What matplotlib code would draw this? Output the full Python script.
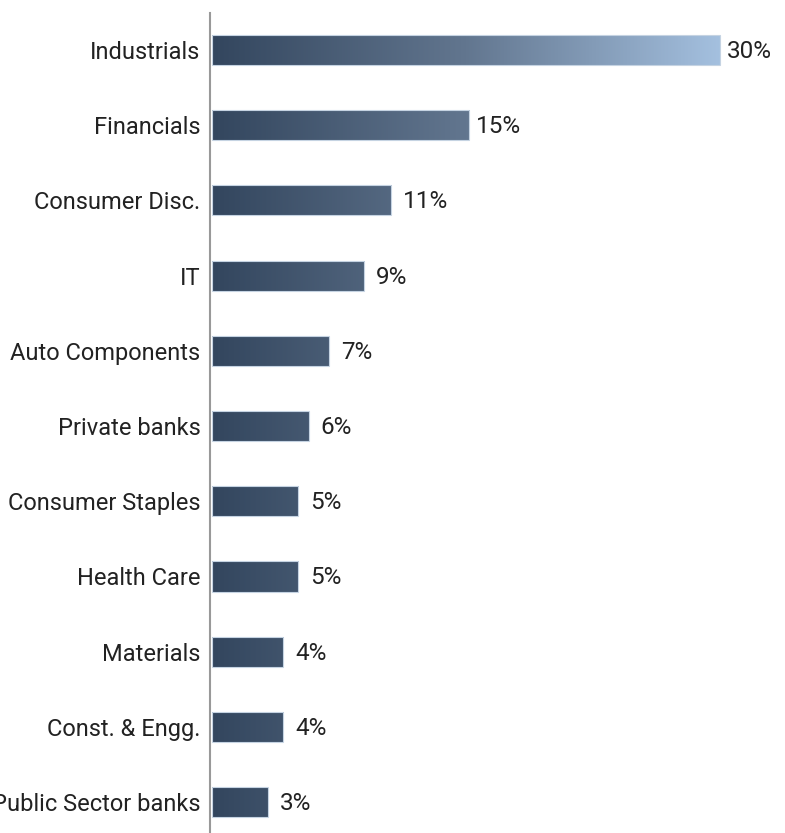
import numpy as np
import matplotlib.pyplot as plt
from matplotlib.colors import LinearSegmentedColormap

plt.rcParams["font.family"] = ["Roboto", "DejaVu Sans"]

sectors = ["Industrials", "Financials", "Consumer Disc.", "IT", "Auto Components",
           "Private banks", "Consumer Staples", "Health Care", "Materials",
           "Const. & Engg.", "Public Sector banks"]
weights = [30.0, 15.2, 10.6, 9.0, 6.9, 5.7, 5.1, 5.1, 4.2, 4.2, 3.3]
labels = ["30%", "15%", "11%", "9%", "7%", "6%", "5%", "5%", "4%", "4%", "3%"]

cmap = LinearSegmentedColormap.from_list("bars", ["#33465e", "#62768f", "#a4c0df"])

fig = plt.figure(figsize=(7.85, 8.33), dpi=100)
ax = fig.add_axes([212 / 785, 0, 573 / 785, 820 / 833])

# spine first, set_position resets the ticks
for s in ["top", "right", "bottom"]:
    ax.spines[s].set_visible(False)
ax.spines["left"].set_color("#999999")
ax.spines["left"].set_linewidth(1.5)
ax.spines["left"].set_position(("data", -0.1))

pos = np.arange(len(sectors))
bars = ax.barh(pos, weights, height=0.4, facecolor="none",
               edgecolor="#c5d3e2", linewidth=0.8, zorder=3)

grad = np.linspace(0, 1, 256).reshape(1, -1)
for b, w in zip(bars, weights):
    y0 = b.get_y()
    im = ax.imshow(grad * w, extent=(0, w, y0 + b.get_height(), y0),
                   cmap=cmap, vmin=0, vmax=max(weights), aspect="auto",
                   interpolation="bilinear", zorder=2)
    im.set_clip_path(b)

for p, w, lab in zip(pos, weights, labels):
    off = 0.4 if w > 12 else 0.7
    ax.text(w + off, p + 0.02, lab, va="center", ha="left", fontsize=17.5,
            color="#222222")

ax.set_xlim(0, 573 / 16.93)
ax.set_ylim(10.41, -0.49)
ax.set_yticks(pos)
ax.set_yticklabels(sectors, fontsize=17, color="#222222")
ax.tick_params(axis="y", length=0, pad=7, labelsize=17)
ax.set_xticks([])

fig.savefig("out.png", dpi=100)
